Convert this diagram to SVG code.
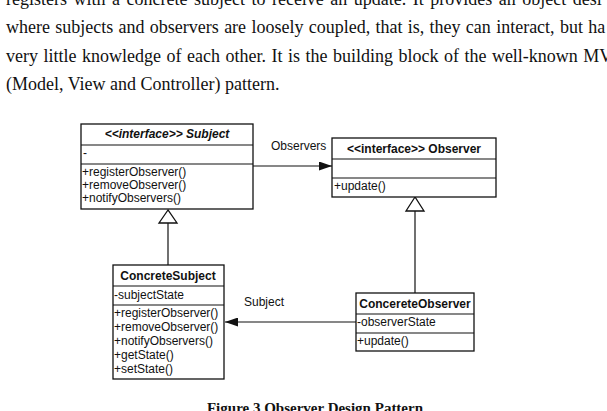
<svg xmlns="http://www.w3.org/2000/svg" width="607" height="411" viewBox="0 0 607 411">
<style>
.body{font-family:"Liberation Serif","Times New Roman",serif;font-size:18px;fill:#111}
.cap{font-family:"Liberation Serif","Times New Roman",serif;font-size:15px;font-weight:bold;fill:#111}
.t{font-family:"Liberation Sans",Arial,sans-serif;font-size:12px;fill:#111}
.h{font-family:"Liberation Sans",Arial,sans-serif;font-size:12px;font-weight:bold;fill:#111;text-anchor:middle}
.box{fill:#fff;stroke:#111;stroke-width:1.3}
.ln{stroke:#111;stroke-width:1.2;fill:none}
.tri{fill:#fff;stroke:#111;stroke-width:1.3}
</style>
<defs>
<marker id="arr" viewBox="0 0 13 9" refX="13" refY="4.5" markerWidth="13" markerHeight="9" markerUnits="userSpaceOnUse" orient="auto">
<path d="M0,0 L13,4.5 L0,9 Z" fill="#111"/>
</marker>
</defs>
<rect width="607" height="411" fill="#fff"/>
<g id="paragraph">
<text class="body" x="6" y="4.5" word-spacing="2">registers with a concrete subject to receive an update. It provides an object desi</text>
<text class="body" x="6" y="33" word-spacing="0.8">where subjects and observers are loosely coupled, that is, they can interact, but ha</text>
<text class="body" x="6" y="61.5" word-spacing="1">very little knowledge of each other. It is the building block of the well-known MV</text>
<text class="body" x="6" y="90">(Model, View and Controller) pattern.</text>
</g>
<g id="connectors">
<line class="ln" x1="253" y1="166" x2="332" y2="166" marker-end="url(#arr)"/>
<line class="ln" x1="356" y1="322" x2="225" y2="322" marker-end="url(#arr)"/>
<line class="ln" x1="168" y1="223" x2="168" y2="265"/>
<polygon class="tri" points="168,210 159,223 177,223"/>
<line class="ln" x1="415" y1="211" x2="415" y2="293"/>
<polygon class="tri" points="415,197 406,211 424,211"/>
<text class="t" x="271" y="150">Observers</text>
<text class="t" x="244" y="306">Subject</text>
</g>
<g id="Subject">
<rect class="box" x="81" y="124" width="172" height="85"/>
<line class="ln" x1="81" y1="145" x2="253" y2="145"/>
<line class="ln" x1="81" y1="164" x2="253" y2="164"/>
<text class="h" x="167" y="138" font-style="italic">&lt;&lt;interface&gt;&gt; Subject</text>
<text class="t" x="83" y="157">-</text>
<text class="t" x="82" y="176">+registerObserver()</text>
<text class="t" x="82" y="189">+removeObserver()</text>
<text class="t" x="82" y="202">+notifyObservers()</text>
</g>
<g id="Observer">
<rect class="box" x="332" y="138" width="164" height="59"/>
<line class="ln" x1="332" y1="159" x2="496" y2="159"/>
<line class="ln" x1="332" y1="178" x2="496" y2="178"/>
<text class="h" x="414" y="153">&lt;&lt;interface&gt;&gt; Observer</text>
<text class="t" x="334" y="190">+update()</text>
</g>
<g id="ConcreteSubject">
<rect class="box" x="113" y="265" width="111" height="114"/>
<line class="ln" x1="113" y1="286" x2="224" y2="286"/>
<line class="ln" x1="113" y1="305" x2="224" y2="305"/>
<text class="h" x="168" y="280">ConcreteSubject</text>
<text class="t" x="114" y="299">-subjectState</text>
<text class="t" x="114" y="317">+registerObserver()</text>
<text class="t" x="114" y="331">+removeObserver()</text>
<text class="t" x="114" y="345">+notifyObservers()</text>
<text class="t" x="114" y="359">+getState()</text>
<text class="t" x="114" y="373">+setState()</text>
</g>
<g id="ConcreteObserver">
<rect class="box" x="356" y="293" width="118" height="58"/>
<line class="ln" x1="356" y1="314" x2="474" y2="314"/>
<line class="ln" x1="356" y1="333" x2="474" y2="333"/>
<text class="h" x="415" y="308">ConcereteObserver</text>
<text class="t" x="357" y="326">-observerState</text>
<text class="t" x="357" y="345">+update()</text>
</g>
<g id="caption">
<text class="cap" x="315" y="413" text-anchor="middle">Figure 3 Observer Design Pattern</text>
</g>
</svg>
